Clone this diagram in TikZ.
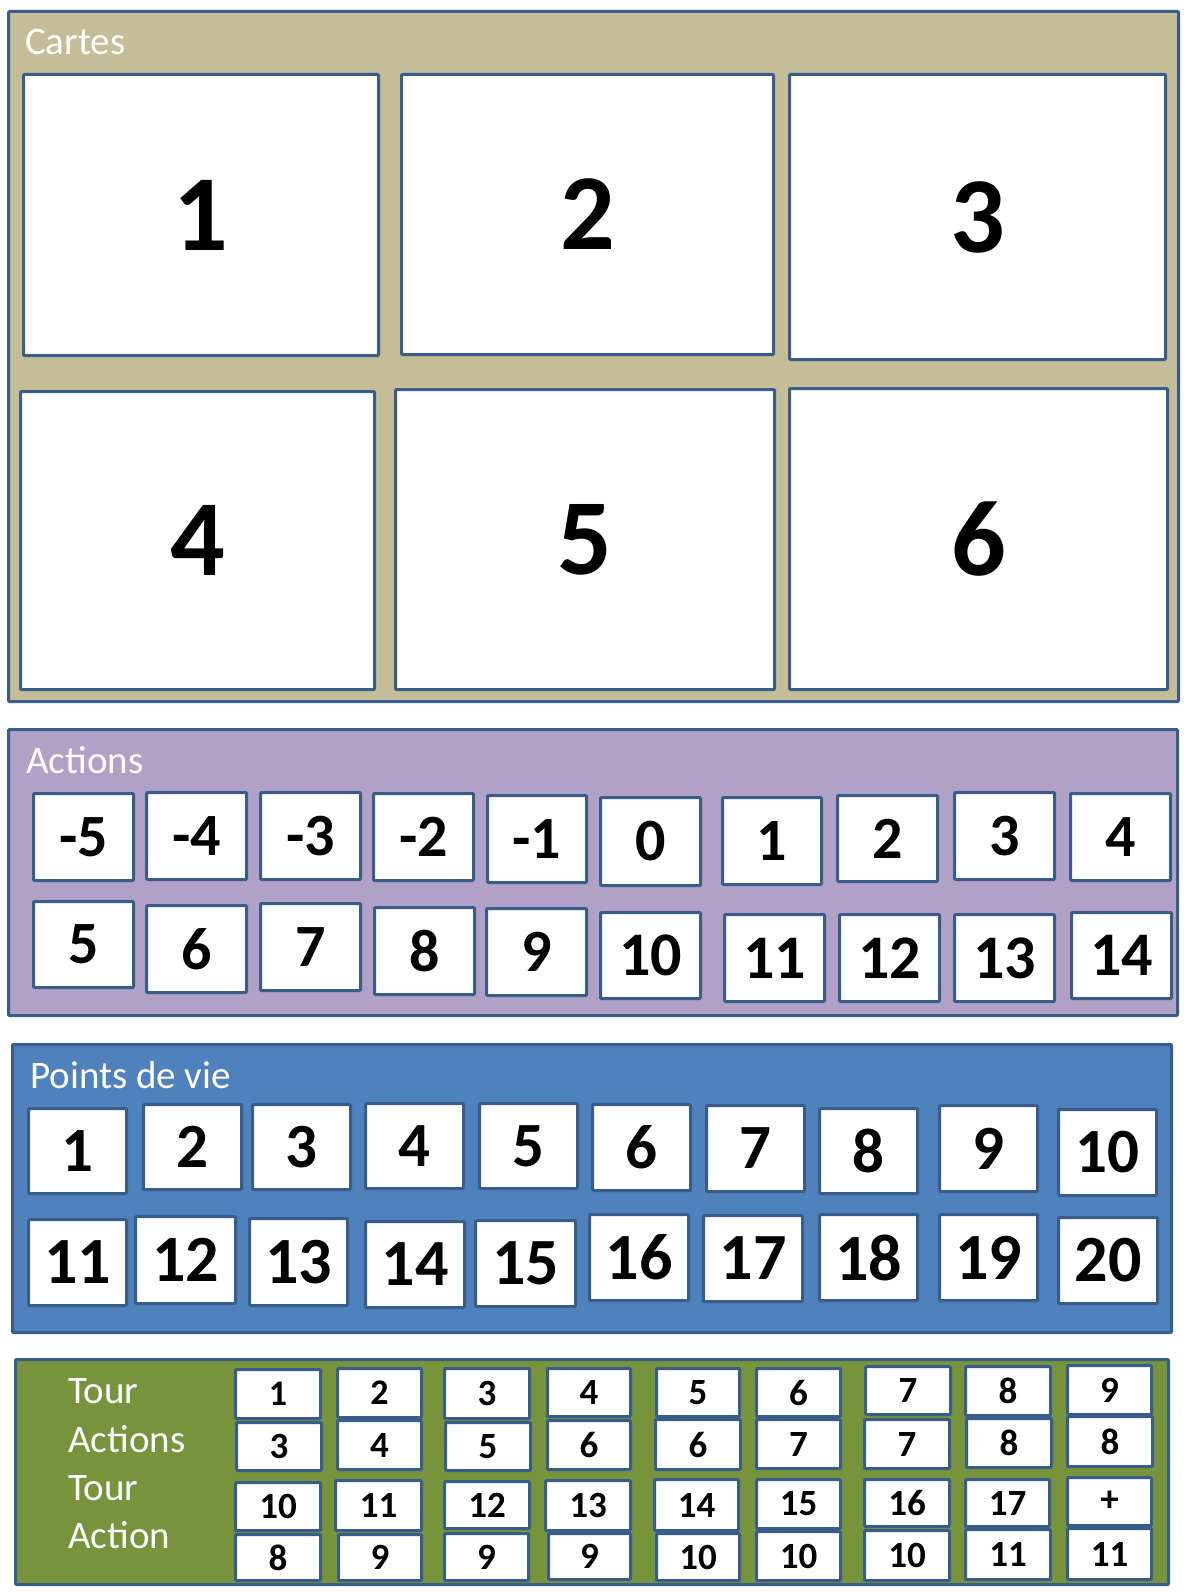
\documentclass[tikz,border=0pt]{standalone}
\usepackage{fontspec}
\setmainfont{Carlito}
\definecolor{tanfill}{HTML}{C4BD97}
\definecolor{purfill}{HTML}{B2A1C7}
\definecolor{bluefill}{HTML}{4F81BD}
\definecolor{greenfill}{HTML}{77933C}
\definecolor{edgeblue}{HTML}{385D8A}
\tikzset{
  panel/.style={draw=edgeblue, line width=3pt, rounded corners=1pt},
  cell/.style={draw=edgeblue, fill=white, line width=3pt, rounded corners=1pt, inner sep=0pt, text=black},
  lbl/.style={text=white, inner sep=0pt, anchor=base west, font=\fontsize{39}{39}\selectfont},
}
% #1 name, #2 x1, #3 y1, #4 x2, #5 y2, #6 text, #7 font size, #8 extra
\newcommand\bx[8][]{\node[cell,#1,font={\fontsize{#8}{#8}\selectfont\bfseries}, minimum width={(#4-#2-3)*1pt}, minimum height={(#5-#3-3)*1pt}] (#2) at ({(#3+#5)/2},{(#4+#6)/2}) {#7};}
\newcommand\pn[6]{\node[panel, fill=#6, inner sep=0pt, minimum width={(#4-#2-3)*1pt}, minimum height={(#5-#3-3)*1pt}] (#1) at ({(#2+#4)/2},{(#3+#5)/2}) {};}
\newcommand\cbox[7]{\node[cell, font={\fontsize{#7}{#7}\selectfont\bfseries}, minimum width={(#4-#2-3)*1pt}, minimum height={(#5-#3-3)*1pt}] (#1) at ({(#2+#4)/2},{(#3+#5)/2}) {#6};}
\begin{document}
\begin{tikzpicture}[x=1pt,y=-1pt]
\useasboundingbox (0,0) rectangle (1190,1592);
\fill[white] (0,0) rectangle (1190,1592);
% ---------- Cartes ----------
\pn{cartes}{7}{10}{1180}{703}{tanfill}
\node[lbl] (lcartes) at (25,55) {Cartes};
\cbox{c1}{22}{73}{380}{357}{1}{108}
\cbox{c2}{400}{73}{775}{356}{2}{108}
\cbox{c3}{788}{73}{1167}{361}{3}{108}
\cbox{c4}{19}{390}{376}{691}{4}{108}
\cbox{c5}{394}{388}{776}{691}{5}{108}
\cbox{c6}{788}{387}{1169}{691}{6}{108}
% ---------- Actions ----------
\pn{actions}{7}{728}{1179}{1017}{purfill}
\node[lbl] (lactions) at (26,773) {Actions};
\cbox{a1}{32}{792}{135}{882}{-5}{60}
\cbox{a2}{145}{791}{248}{881}{-4}{60}
\cbox{a3}{259}{791}{362}{881}{-3}{60}
\cbox{a4}{372}{792}{475}{882}{-2}{60}
\cbox{a5}{486}{794}{588}{884}{-1}{60}
\cbox{a6}{599}{796}{702}{887}{0}{60}
\cbox{a7}{721}{796}{823}{886}{1}{60}
\cbox{a8}{836}{794}{939}{883}{2}{60}
\cbox{a9}{953}{791}{1056}{881}{3}{60}
\cbox{a10}{1069}{792}{1172}{882}{4}{60}
\cbox{b1}{32}{900}{135}{989}{5}{60}
\cbox{b2}{145}{904}{248}{994}{6}{60}
\cbox{b3}{259}{902}{362}{992}{7}{60}
\cbox{b4}{373}{906}{476}{996}{8}{60}
\cbox{b5}{485}{907}{588}{997}{9}{60}
\cbox{b6}{599}{911}{702}{1000}{10}{62}
\cbox{b7}{723}{913}{826}{1003}{11}{62}
\cbox{b8}{838}{913}{941}{1003}{12}{62}
\cbox{b9}{953}{913}{1056}{1003}{13}{62}
\cbox{b10}{1070}{911}{1173}{1000}{14}{62}
% ---------- Points de vie ----------
\pn{points}{11}{1043}{1173}{1334}{bluefill}
\node[lbl] (lpoints) at (30,1088) {Points de vie};
\cbox{p1}{27}{1107}{128}{1195}{1}{63}
\cbox{p2}{142}{1103}{243}{1191}{2}{63}
\cbox{p3}{251}{1103}{352}{1191}{3}{63}
\cbox{p4}{364}{1102}{465}{1190}{4}{63}
\cbox{p5}{478}{1102}{579}{1190}{5}{63}
\cbox{p6}{591}{1103}{692}{1192}{6}{63}
\cbox{p7}{705}{1104}{806}{1193}{7}{63}
\cbox{p8}{818}{1107}{919}{1195}{8}{63}
\cbox{p9}{938}{1104}{1039}{1193}{9}{63}
\cbox{p10}{1057}{1108}{1158}{1197}{10}{63}
\cbox{q1}{27}{1218}{128}{1307}{11}{66}
\cbox{q2}{134}{1215}{237}{1305}{12}{66}
\cbox{q3}{248}{1217}{349}{1307}{13}{66}
\cbox{q4}{364}{1220}{466}{1309}{14}{66}
\cbox{q5}{474}{1219}{577}{1308}{15}{66}
\cbox{q6}{588}{1213}{690}{1302}{16}{66}
\cbox{q7}{702}{1214}{804}{1303}{17}{66}
\cbox{q8}{818}{1213}{919}{1302}{18}{66}
\cbox{q9}{938}{1213}{1039}{1302}{19}{66}
\cbox{q10}{1057}{1216}{1159}{1305}{20}{66}
% ---------- Tour ----------
\pn{tour}{14}{1358}{1170}{1586}{greenfill}
\node[lbl] (ltour1) at (68,1403) {Tour};
\node[lbl] (lacts) at (68,1452) {Actions};
\node[lbl] (ltour2) at (68,1500) {Tour};
\node[lbl] (lact) at (68,1548) {Action};
\cbox{t1a}{234}{1368}{322}{1420}{1}{36}
\cbox{t1b}{235}{1421}{323}{1472}{3}{37}
\cbox{t1c}{234}{1481}{322}{1532}{10}{37}
\cbox{t1d}{234}{1533}{322}{1582}{8}{37}
\cbox{t2a}{336}{1367}{423}{1419}{2}{36}
\cbox{t2b}{336}{1419}{423}{1471}{4}{37}
\cbox{t2c}{334}{1479}{423}{1532}{11}{37}
\cbox{t2d}{337}{1533}{423}{1582}{9}{37}
\cbox{t3a}{443}{1367}{531}{1420}{3}{37}
\cbox{t3b}{444}{1421}{532}{1472}{5}{37}
\cbox{t3c}{443}{1480}{531}{1530}{12}{37}
\cbox{t3d}{443}{1532}{530}{1582}{9}{37}
\cbox{t4a}{546}{1367}{632}{1418}{4}{37}
\cbox{t4b}{546}{1419}{632}{1471}{6}{37}
\cbox{t4c}{544}{1479}{632}{1532}{13}{37}
\cbox{t4d}{547}{1532}{632}{1581}{9}{37}
\cbox{t5a}{655}{1367}{741}{1418}{5}{37}
\cbox{t5b}{654}{1418}{742}{1471}{6}{37}
\cbox{t5c}{653}{1478}{740}{1532}{14}{37}
\cbox{t5d}{655}{1532}{741}{1582}{10}{37}
\cbox{t6a}{755}{1367}{842}{1418}{6}{37}
\cbox{t6b}{755}{1418}{842}{1470}{7}{37}
\cbox{t6c}{755}{1478}{842}{1530}{15}{37}
\cbox{t6d}{755}{1530}{842}{1582}{10}{37}
\cbox{t7a}{864}{1365}{952}{1416}{7}{37}
\cbox{t7b}{863}{1418}{951}{1470}{7}{37}
\cbox{t7c}{863}{1478}{951}{1528}{16}{37}
\cbox{t7d}{863}{1529}{951}{1582}{10}{37}
\cbox{t8a}{964}{1365}{1052}{1417}{8}{37}
\cbox{t8b}{965}{1417}{1053}{1469}{8}{37}
\cbox{t8c}{964}{1478}{1051}{1528}{17}{37}
\cbox{t8d}{964}{1528}{1052}{1581}{11}{37}
\cbox{t9a}{1066}{1364}{1153}{1416}{9}{37}
\cbox{t9b}{1066}{1415}{1154}{1468}{8}{37}
\cbox{t9c}{1066}{1476}{1153}{1527}{+}{37}
\cbox{t9d}{1066}{1527}{1153}{1581}{11}{37}
\end{tikzpicture}
\end{document}
